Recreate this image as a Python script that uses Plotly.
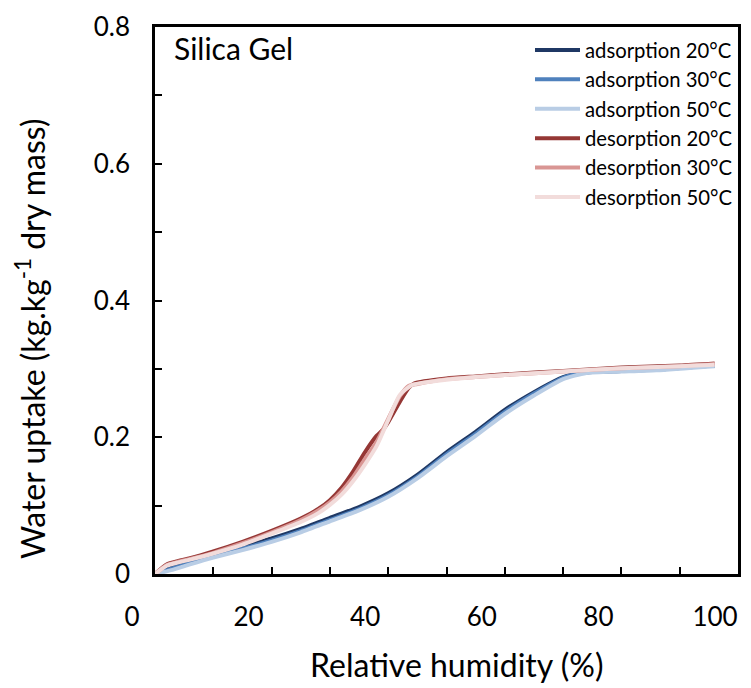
import plotly.graph_objects as go

# ---------------- data ----------------
ads20_rh = [0, 3, 6, 10, 15, 20, 25, 30, 35, 40, 45, 50, 55, 60, 65, 70, 74, 80, 86, 96]
ads20_w  = [0, 0.010, 0.019, 0.029, 0.040, 0.052, 0.066, 0.082, 0.098, 0.118, 0.145, 0.178, 0.208, 0.240, 0.266, 0.288, 0.295, 0.297, 0.299, 0.305]

ads30_rh = [0, 3, 6, 10, 15, 20, 25, 30, 35, 40, 45, 50, 55, 60, 65, 70, 74, 80, 86, 96]
ads30_w  = [0, 0.008, 0.016, 0.026, 0.037, 0.049, 0.063, 0.079, 0.095, 0.115, 0.142, 0.175, 0.205, 0.237, 0.264, 0.287, 0.295, 0.297, 0.299, 0.305]

ads50_rh = [0, 3, 6, 10, 15, 20, 25, 30, 35, 40, 45, 50, 55, 60, 65, 70, 74, 80, 86, 96]
ads50_w  = [0, 0.006, 0.014, 0.024, 0.035, 0.047, 0.061, 0.077, 0.093, 0.113, 0.140, 0.172, 0.202, 0.234, 0.261, 0.285, 0.294, 0.296, 0.298, 0.304]

des20_rh = [0, 2, 4, 6, 10, 15, 20, 25, 28, 30, 32, 34, 36, 38, 39, 40, 42, 43.5, 44.5, 50, 55, 60, 70, 80, 90, 96]
des20_w  = [0, 0.014, 0.019, 0.023, 0.033, 0.047, 0.063, 0.081, 0.095, 0.108, 0.126, 0.150, 0.178, 0.202, 0.210, 0.222, 0.252, 0.272, 0.279, 0.286, 0.289, 0.292, 0.297, 0.302, 0.305, 0.308]

des30_rh = [0, 2, 4, 6, 10, 15, 20, 25, 28, 30, 32, 34, 36, 38, 40, 42, 43.5, 45, 50, 55, 60, 70, 80, 90, 96]
des30_w  = [0, 0.013, 0.018, 0.022, 0.031, 0.045, 0.061, 0.079, 0.093, 0.105, 0.121, 0.142, 0.168, 0.193, 0.227, 0.260, 0.275, 0.278, 0.285, 0.288, 0.291, 0.296, 0.301, 0.304, 0.307]

des50_rh = [0, 2, 4, 6, 10, 15, 20, 25, 28, 30, 32, 34, 36, 38, 40, 42, 44, 45.5, 50, 55, 60, 70, 80, 90, 96]
des50_w  = [0, 0.012, 0.017, 0.021, 0.030, 0.043, 0.059, 0.076, 0.089, 0.101, 0.116, 0.136, 0.160, 0.187, 0.225, 0.262, 0.276, 0.279, 0.284, 0.288, 0.291, 0.296, 0.301, 0.304, 0.306]

series_names = ["adsorption 20°C", "adsorption 30°C", "adsorption 50°C",
                "desorption 20°C", "desorption 30°C", "desorption 50°C"]
series_x = [ads20_rh, ads30_rh, ads50_rh, des20_rh, des30_rh, des50_rh]
series_y = [ads20_w, ads30_w, ads50_w, des20_w, des30_w, des50_w]
series_colors = ["#1F3864", "#4F81BD", "#B9CDE5", "#953735", "#D99694", "#F2DCDB"]

x_ticks = [0, 20, 40, 60, 80, 100]
x_ticktext = ["0", "20", "40", "60", "80", "100"]
y_ticks = [0, 0.2, 0.4, 0.6, 0.8]
y_ticktext = ["0", "0.2", "0.4", "0.6", "0.8"]

FONT = "Lato"

fig = go.Figure()
for name, xs, ys, col in zip(series_names, series_x, series_y, series_colors):
    fig.add_trace(go.Scatter(x=xs, y=ys, mode="lines", name=name,
                             line=dict(color=col, width=4, shape="spline", smoothing=0.6)))

tick_style = dict(ticks="inside", ticklen=7, tickwidth=2, tickcolor="black")

fig.update_layout(
    width=751, height=688,
    margin=dict(l=155, r=10, t=26, b=114),
    paper_bgcolor="white", plot_bgcolor="white",
    font=dict(family=FONT, color="black"),
    showlegend=True,
    legend=dict(x=1.0, xanchor="right", y=0.994, yanchor="top",
                bgcolor="rgba(0,0,0,0)", font=dict(size=20.3, family=FONT),
                itemwidth=45, tracegroupgap=0),
    xaxis=dict(range=[0, 100], tickmode="array", tickvals=x_ticks, ticktext=x_ticktext,
               **tick_style,
               minor=dict(dtick=10, tick0=0, showgrid=False, **tick_style),
               showline=True, linewidth=2.5, linecolor="black", mirror=True,
               showgrid=False, zeroline=False,
               tickfont=dict(size=26, family=FONT),
               ticklabelshift=-23, ticklabelstandoff=18),
    yaxis=dict(range=[0, 0.8], tickmode="array", tickvals=y_ticks, ticktext=y_ticktext,
               **tick_style,
               minor=dict(dtick=0.1, tick0=0, showgrid=False, **tick_style),
               showline=True, linewidth=2.5, linecolor="black", mirror=True,
               showgrid=False, zeroline=False,
               tickfont=dict(size=26, family=FONT),
               ticklabelstandoff=17),
    annotations=[
        dict(text="Silica Gel", xref="paper", yref="paper", x=(172 - 155) / 586, y=(574 - 47) / 548,
             xanchor="left", yanchor="middle", showarrow=False, font=dict(size=30, family=FONT)),
        dict(text="Relative humidity (%)", xref="paper", yref="paper", x=(458 - 155) / 586,
             y=(574 - 665) / 548, xanchor="center", yanchor="middle", showarrow=False,
             font=dict(size=32, family=FONT)),
        dict(text="Water uptake (kg.kg<sup>-1</sup> dry mass)", xref="paper", yref="paper",
             x=(30 - 155) / 586, y=(574 - 338) / 548, xanchor="center", yanchor="middle",
             textangle=-90, showarrow=False, font=dict(size=32, family=FONT)),
    ],
)

fig.write_html("out.html")
